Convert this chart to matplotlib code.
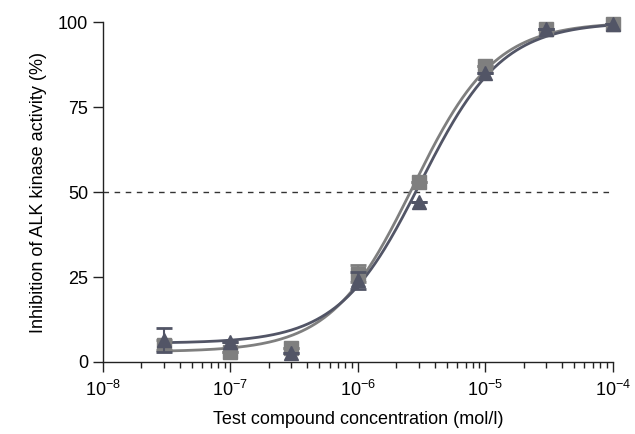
import numpy as np
import matplotlib
matplotlib.use("Agg")
import matplotlib.pyplot as plt
from matplotlib.ticker import LogLocator, NullFormatter

plt.rcParams['font.family'] = ['Liberation Sans', 'DejaVu Sans']

conc = [3e-8, 1e-7, 3e-7, 1e-6, 3e-6, 1e-5, 3e-5, 1e-4]
sq_vals = [5.0, 3.0, 4.0, 26.0, 53.0, 87.0, 98.0, 99.5]
sq_err = [1.5, 0.0, 0.0, 2.5, 0.0, 0.0, 0.0, 0.0]
tri_vals = [6.5, 6.0, 2.5, 24.0, 47.0, 85.0, 98.0, 99.5]
tri_err = [3.5, 0.0, 0.0, 2.5, 0.0, 0.0, 0.0, 0.0]

# fitted Hill parameters (bottom, top, EC50, slope)
sq_fit = (3.0, 100.0, 2.7e-6, 1.35)
tri_fit = (5.5, 100.0, 3.1e-6, 1.35)

def hill(x, p):
    b, t, ec, h = p
    return b + (t - b) / (1 + (ec / x) ** h)

fig = plt.figure(figsize=(6.35, 4.34), dpi=100)
ax = fig.add_axes([0.162, 0.166, 0.803, 0.783])

xs = np.logspace(np.log10(conc[0]), np.log10(conc[-1]), 300)
c_sq = '#7f7f7f'
c_tri = '#525566'
ax.plot(xs, hill(xs, sq_fit), color=c_sq, lw=2.0, zorder=2, clip_on=False)
ax.plot(xs, hill(xs, tri_fit), color=c_tri, lw=2.0, zorder=2, clip_on=False)

e1 = ax.errorbar(conc, sq_vals, yerr=sq_err, fmt='s', color=c_sq, ms=10,
                 capsize=6, elinewidth=1.5, capthick=2, zorder=3)
e2 = ax.errorbar(conc, tri_vals, yerr=tri_err, fmt='^', color=c_tri, ms=10,
                 capsize=6, elinewidth=1.5, capthick=2, zorder=4)
for e in (e1, e2):
    e[0].set_clip_on(False)

ax.axhline(50, color='#333333', lw=1.0, ls=(0, (4, 4)), zorder=1)

ax.set_xscale('log')
ax.set_xlim(1e-8, 1e-4)
ax.set_ylim(0, 100)
ax.set_yticks([0, 25, 50, 75, 100])
ax.xaxis.set_major_locator(LogLocator(base=10, numticks=10))
ax.xaxis.set_minor_locator(LogLocator(base=10, subs=np.arange(2, 10), numticks=10))
ax.xaxis.set_minor_formatter(NullFormatter())

for s in ['top', 'right']:
    ax.spines[s].set_visible(False)
for s in ['left', 'bottom']:
    ax.spines[s].set_color('#222222')
    ax.spines[s].set_linewidth(1.0)

ax.tick_params(axis='both', which='major', length=7, width=1.0, color='#222222',
               labelsize=13, direction='out')
ax.tick_params(axis='x', which='minor', length=4, width=1.0, color='#222222')
ax.tick_params(axis='x', pad=6)

ax.set_xlabel('Test compound concentration (mol/l)', fontsize=13, labelpad=8)
ax.set_ylabel('Inhibition of ALK kinase activity (%)', fontsize=13, labelpad=8)

fig.savefig('out.png', dpi=100)
